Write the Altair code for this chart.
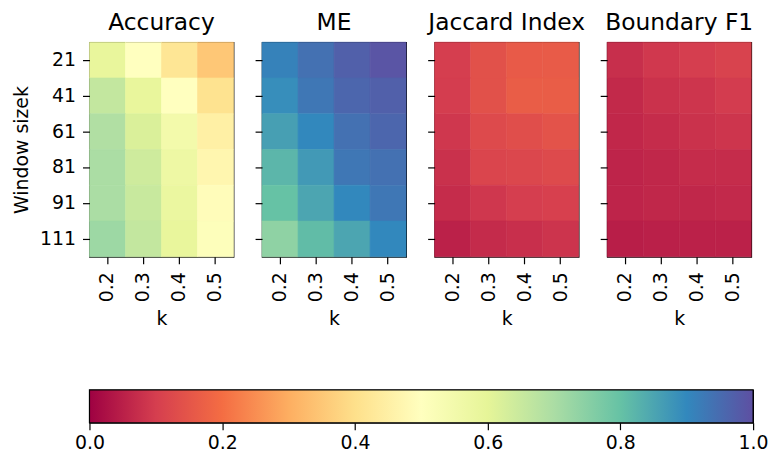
import altair as alt
import pandas as pd

windows = [21, 41, 61, 81, 91, 111]
ks = ["0.2", "0.3", "0.4", "0.5"]
metrics = ["Accuracy", "ME", "Jaccard Index", "Boundary F1"]

accuracy = [
    [0.59, 0.50, 0.42, 0.35],
    [0.66, 0.59, 0.50, 0.41],
    [0.69, 0.62, 0.55, 0.45],
    [0.70, 0.64, 0.57, 0.47],
    [0.70, 0.65, 0.58, 0.49],
    [0.72, 0.66, 0.59, 0.51],
]
me = [
    [0.91, 0.94, 0.97, 0.99],
    [0.89, 0.93, 0.96, 0.97],
    [0.86, 0.90, 0.94, 0.96],
    [0.82, 0.87, 0.93, 0.94],
    [0.80, 0.85, 0.90, 0.93],
    [0.74, 0.81, 0.85, 0.90],
]
jaccard = [
    [0.100, 0.140, 0.160, 0.162],
    [0.098, 0.140, 0.165, 0.165],
    [0.089, 0.125, 0.135, 0.145],
    [0.078, 0.115, 0.120, 0.125],
    [0.071, 0.089, 0.100, 0.105],
    [0.053, 0.069, 0.076, 0.084],
]
boundary_f1 = [
    [0.075, 0.090, 0.100, 0.110],
    [0.065, 0.080, 0.085, 0.097],
    [0.063, 0.070, 0.080, 0.085],
    [0.058, 0.062, 0.070, 0.070],
    [0.058, 0.062, 0.062, 0.066],
    [0.048, 0.050, 0.053, 0.053],
]

spectral = ["#9e0142", "#d53e4f", "#f46d43", "#fdae61", "#fee08b", "#ffffbf",
            "#e6f598", "#abdda4", "#66c2a5", "#3288bd", "#5e4fa2"]
spectral_stops = [0.0, 0.1, 0.2, 0.3, 0.4, 0.5, 0.6, 0.7, 0.8, 0.9, 1.0]
cbar_ticks = [0.0, 0.2, 0.4, 0.6, 0.8, 1.0]

rows = []
for name, grid in zip(metrics, [accuracy, me, jaccard, boundary_f1]):
    for w, vals in zip(windows, grid):
        for k, v in zip(ks, vals):
            rows.append({"metric": name, "window": w, "k": k, "value": v})
df = pd.DataFrame(rows)

cscale = alt.Scale(domain=spectral_stops, range=spectral, interpolate="rgb")

FONT = "DejaVu Sans"
LABEL = 19


def panel(i, name):
    first = i == 0
    yaxis = alt.Axis(
        title="Window sizek" if first else None,
        labels=first,
        labelFontSize=LABEL,
        titleFontSize=LABEL,
        titlePadding=8,
        labelPadding=7,
    )
    return (
        alt.Chart(df)
        .transform_filter(alt.datum.metric == name)
        .mark_rect(strokeWidth=0.6)
        .encode(
            x=alt.X(
                "k:N",
                sort=ks,
                scale=alt.Scale(paddingInner=0, paddingOuter=0),
                axis=alt.Axis(title="k", labelAngle=270, labelFontSize=LABEL,
                              titleFontSize=LABEL, labelPadding=8, titlePadding=8),
            ),
            y=alt.Y(
                "window:O",
                sort=windows,
                scale=alt.Scale(paddingInner=0, paddingOuter=0),
                axis=yaxis,
            ),
            color=alt.Color("value:Q", scale=cscale, legend=None),
            stroke=alt.Stroke("value:Q", scale=cscale, legend=None),
        )
        .properties(
            width=145,
            height=216,
            title=alt.Title(name, fontSize=23.5, fontWeight="normal", font=FONT,
                            color="black", offset=8),
        )
    )


panels = alt.hconcat(*[panel(i, m) for i, m in enumerate(metrics)],
                     spacing=28.7, bounds="flush")

cb_df = pd.DataFrame({"start": [cbar_ticks[0]], "end": [cbar_ticks[-1]], "row": ["bar"]})
gradient = {
    "gradient": "linear",
    "x1": 0, "x2": 1, "y1": 0, "y2": 0,
    "stops": [{"offset": o, "color": c} for o, c in zip(spectral_stops, spectral)],
}
colorbar = (
    alt.Chart(cb_df)
    .mark_rect(fill=gradient, stroke="black", strokeWidth=1.2)
    .encode(
        x=alt.X(
            "start:Q",
            scale=alt.Scale(domain=[0, 1], nice=False, zero=False),
            axis=alt.Axis(values=cbar_ticks, format=".1f", title=None, grid=False,
                          domain=False, labelFontSize=LABEL, labelFlush=False,
                          labelPadding=4),
        ),
        x2="end:Q",
        y=alt.Y("row:N", axis=alt.Axis(labels=False, ticks=False, domain=False,
                                        title=None, minExtent=72),
                scale=alt.Scale(paddingInner=0, paddingOuter=0)),
    )
    .properties(width=668, height=33)
)

chart = (
    alt.vconcat(panels, colorbar, spacing=59)
    .properties(padding={"left": 4, "top": 0, "right": 0, "bottom": 0},
                background="white")
    .configure_view(stroke="black", strokeWidth=1.2)
    .configure_axis(
        labelFont=FONT,
        titleFont=FONT,
        labelColor="black",
        titleColor="black",
        titleFontWeight="normal",
        tickColor="black",
        tickSize=7,
        tickWidth=1.2,
        domain=False,
        grid=False,
    )
)

chart.save("out.html", embed_options={"renderer": "svg", "actions": False})
